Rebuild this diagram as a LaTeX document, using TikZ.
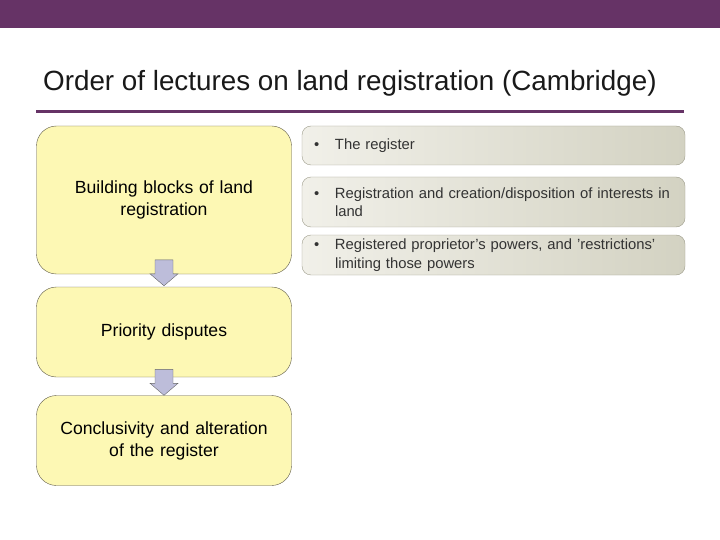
\documentclass[tikz,border=0pt]{standalone}
\usepackage{fontspec}
\setmainfont{Liberation Sans}
\usetikzlibrary{calc,positioning}
\hyphenpenalty=10000

\definecolor{plum}{HTML}{663366}
\definecolor{padyellow}{HTML}{FDF8B4}
\definecolor{padedge}{HTML}{5E5A48}
\definecolor{arrowfill}{HTML}{BDBDDA}
\definecolor{greyleft}{HTML}{F1F0E9}
\definecolor{greyright}{HTML}{D3D2C2}
\definecolor{greyedge}{HTML}{9C9B8A}

\tikzset{
  topic/.style={rectangle, rounded corners=20pt, draw=padedge, fill=padyellow,
    minimum width=255pt, text width=236pt, align=center,
    font=\fontsize{17.6}{22}\selectfont},
  detail/.style={rectangle, rounded corners=9pt, draw=greyedge,
    left color=greyleft, right color=greyright,
    minimum width=383pt, text width=359pt, inner xsep=12pt, align=left,
    font=\fontsize{14.8}{18.5}\selectfont, text=black!80},
  blockarrow/.style={draw=gray!80!black, fill=arrowfill, to path={
    ($(\tikztotarget)+(-9,26)$) -- ++(18,0) -- ++(0,-14) -- ++(5,0)
    -- (\tikztotarget) -- ++(-14,12) -- ++(5,0) -- cycle}}
}

\newcommand{\bulletline}[1]{\makebox[21pt][l]{\textbullet}\parbox[t]{338pt}{\raggedright #1}}

\begin{document}
\begin{tikzpicture}[x=1pt,y=1pt]
  \useasboundingbox (0,0) rectangle (720,-540);
  \fill[plum] (0,0) rectangle (720,-28);

  \node[anchor=base west, inner sep=0pt, text=black!90, font=\fontsize{27.8}{32}\selectfont]
    (title) at (43,-91) {Order of lectures on land registration (Cambridge)};
  \draw[plum, line width=3pt] (36,-112) -- (684,-112);

  % lecture blocks
  \node[topic, minimum height=148pt] (b1) at (164,-200) {Building blocks of land\\ registration};
  \node[topic, minimum height=90pt]  (b2) at (164,-332) {Priority disputes};
  \node[topic, minimum height=90pt]  (b3) at (164,-440.5) {Conclusivity and alteration\\ of the register};

  \path[blockarrow] (b1) to ([yshift=1pt]b2.north);
  \path[blockarrow] (b2) to (b3.north);

  % contents of the first block
  \node[detail, minimum height=39pt] (r1) at (493.5,-145.5) {\bulletline{The register}};
  \node[detail, minimum height=50pt] (r2) at (493.5,-202)
    {\bulletline{Registration and creation/disposition of interests in land}};
  \node[detail, minimum height=40pt] (r3) at (493.5,-255)
    {\bulletline{Registered proprietor's powers, and 'restrictions' limiting those powers}};
\end{tikzpicture}
\end{document}
